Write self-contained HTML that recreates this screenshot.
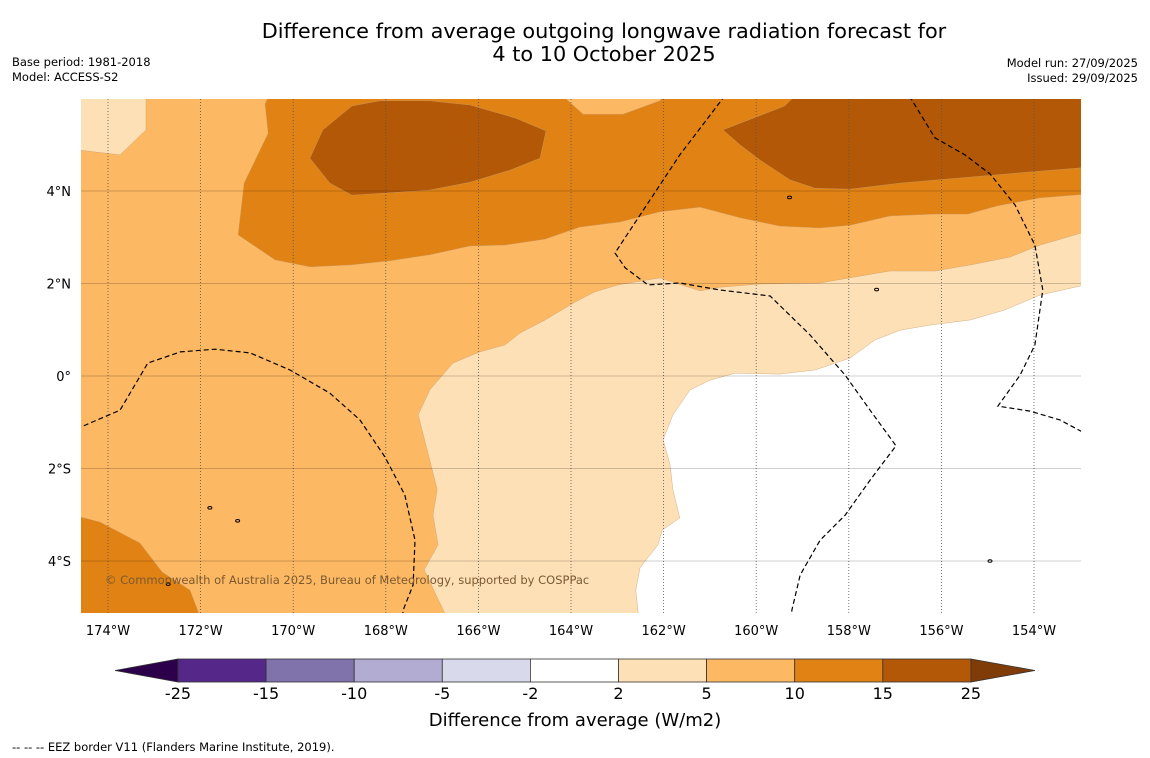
<!DOCTYPE html>
<html><head><meta charset="utf-8"><style>
html,body{margin:0;padding:0;background:#fff;}
svg{display:block;font-family:"DejaVu Sans","Liberation Sans",sans-serif;}
</style></head><body>
<svg id="chart" width="1150" height="758" viewBox="0 0 1150 758" xmlns="http://www.w3.org/2000/svg">
<text x="604" y="38" text-anchor="middle" font-size="20.8" fill="#000">Difference from average outgoing longwave radiation forecast for</text>
<text x="604" y="61" text-anchor="middle" font-size="20.8" fill="#000">4 to 10 October 2025</text>
<text x="12" y="66" font-size="11.5">Base period: 1981-2018</text>
<text x="12" y="81" font-size="11.5">Model: ACCESS-S2</text>
<text x="1138" y="67" font-size="11.5" text-anchor="end">Model run: 27/09/2025</text>
<text x="1138" y="82" font-size="11.5" text-anchor="end">Issued: 29/09/2025</text>
<defs><clipPath id="mapclip"><rect x="81" y="99" width="1000" height="514"/></clipPath></defs>
<g id="map" clip-path="url(#mapclip)"></g>
<g id="axes"></g>
<g id="cbar"></g>
<text x="575" y="726" text-anchor="middle" font-size="18">Difference from average (W/m2)</text>
<text x="12" y="751" font-size="11.5">--  --  -- EEZ border V11 (Flanders Marine Institute, 2019).</text>
</svg>
<script>
// axis extents
const lonTicks = [-174,-172,-170,-168,-166,-164,-162,-160,-158,-156,-154];
const latTicks = [4,2,0,-2,-4];
const lonLabels = ["174°W","172°W","170°W","168°W","166°W","164°W","162°W","160°W","158°W","156°W","154°W"];
const latLabels = ["4°N","2°N","0°","2°S","4°S"];
// contour bands (lon,lat)
const band2to5A = [[-175,6.5],[-173.14,6.5],[-173.18,5.98],[-173.18,5.32],[-173.74,4.78],[-175,4.93]];
const band2to5B = [[-166.55,-5.5],[-167.17,-4.19],[-166.87,-3.65],[-166.98,-3.01],[-166.89,-2.46],[-167.05,-1.82],[-167.30,-0.84],[-167.05,-0.30],[-166.55,0.28],[-165.97,0.52],[-165.43,0.67],[-165.10,0.93],[-164.56,1.21],[-163.91,1.60],[-163.48,1.82],[-162.98,1.97],[-162.08,2.12],[-161.21,1.84],[-160.78,1.92],[-159.92,1.99],[-158.62,2.01],[-157.76,2.16],[-157.11,2.27],[-156.14,2.27],[-155.38,2.40],[-154.52,2.57],[-153.87,2.83],[-152.98,3.09],[-152.5,3.2],[-152.5,-5.5]];
const bandNeutral = [[-162.51,-5.5],[-162.60,-4.63],[-162.51,-4.15],[-162.12,-3.65],[-162.03,-3.33],[-161.65,-3.07],[-161.80,-2.46],[-161.86,-1.92],[-162.01,-1.38],[-161.80,-0.84],[-161.43,-0.30],[-161.00,-0.09],[-160.46,0.06],[-159.49,0.04],[-158.73,0.13],[-157.97,0.39],[-157.43,0.78],[-156.89,0.99],[-156.25,1.10],[-155.38,1.21],[-154.63,1.43],[-153.87,1.75],[-152.98,1.95],[-152.5,1.97],[-152.5,-5.5]];
const band10to15A = [[-170.61,5.88],[-170.33,6.5],[-164.67,6.5],[-163.74,5.66],[-162.88,5.66],[-162.08,5.95],[-161.6,6.5],[-152.5,6.5],[-152.5,3.96],[-153.87,3.85],[-154.78,3.68],[-155.43,3.50],[-156.14,3.50],[-157.11,3.46],[-157.97,3.26],[-158.62,3.20],[-159.49,3.24],[-160.35,3.42],[-161.21,3.65],[-162.08,3.55],[-162.94,3.33],[-163.81,3.22],[-164.56,2.96],[-165.43,2.83],[-166.18,2.81],[-167.05,2.62],[-167.91,2.49],[-168.77,2.40],[-169.64,2.36],[-170.39,2.51],[-171.19,3.05],[-171.06,4.17],[-170.54,5.25]];
const band10to15B = [[-175,-2.94],[-174.17,-3.16],[-173.31,-3.61],[-172.83,-4.24],[-172.23,-4.63],[-171.90,-5.5],[-175,-5.5]];
const band15to25A = [[-168.73,5.84],[-168.13,5.95],[-167.05,5.95],[-166.18,5.86],[-165.21,5.58],[-164.54,5.30],[-164.67,4.71],[-165.32,4.45],[-166.18,4.19],[-167.05,4.02],[-167.91,3.96],[-168.73,3.91],[-169.21,4.17],[-169.64,4.71],[-169.36,5.32]];
const band15to25B = [[-160.72,5.32],[-159.38,5.84],[-158.73,6.5],[-152.5,6.5],[-152.5,4.54],[-154.09,4.41],[-155.60,4.28],[-156.89,4.17],[-157.97,4.04],[-158.73,4.06],[-159.27,4.24],[-159.92,4.67],[-160.35,5.0]];
// EEZ borders
const eezA = [[-175,-1.28],[-173.74,-0.74],[-173.14,0.28],[-172.44,0.52],[-171.69,0.58],[-170.93,0.50],[-170.07,0.13],[-169.21,-0.37],[-168.56,-0.95],[-168.02,-1.75],[-167.59,-2.57],[-167.37,-3.55],[-167.41,-4.52],[-167.61,-5.02],[-167.67,-5.3]];
const eezB = [[-160.57,6.2],[-161.65,4.78],[-162.51,3.48],[-163.05,2.66],[-162.83,2.34],[-162.34,1.97],[-161.65,2.01],[-160.78,1.86],[-159.70,1.73],[-158.84,0.89],[-158.08,0.02],[-157.54,-0.74],[-156.98,-1.51],[-157.54,-2.25],[-158.08,-3.01],[-158.62,-3.55],[-159.05,-4.30],[-159.23,-5.06],[-159.25,-5.3]];
const eezC = [[-156.78,6.2],[-156.14,5.15],[-155.49,4.78],[-154.95,4.37],[-154.41,3.70],[-153.98,2.83],[-153.81,1.86],[-153.98,0.67],[-154.30,0.02],[-154.78,-0.65],[-154.09,-0.76],[-153.44,-0.95],[-152.6,-1.4]];
const islands = [[-159.28,3.86],[-157.4,1.87],[-171.8,-2.85],[-171.2,-3.13],[-154.95,-4.0],[-172.7,-4.5]];
// colorbar
const cbLevels = ["-25","-15","-10","-5","-2","2","5","10","15","25"];
const cbColors = ["#542788","#8073ac","#b2abd2","#d8daeb","#ffffff","#fee0b6","#fdb863","#e08214","#b35806"];
const cbUnder = "#2d004b", cbOver = "#7f3b08";

const NS="http://www.w3.org/2000/svg";
const x = lon => 108 + (lon + 174) * 46.3;
const y = lat => 376 - lat * 46.25;
function mk(tag, attrs, parent){const e=document.createElementNS(NS,tag);for(const k in attrs)e.setAttribute(k,attrs[k]);parent.appendChild(e);return e;}
const map=document.getElementById('map'), axes=document.getElementById('axes'), cbar=document.getElementById('cbar');
const pts = arr => arr.map(p=>x(p[0]).toFixed(1)+','+y(p[1]).toFixed(1)).join(' ');

let bg = mk('rect',{x:81,y:99,width:1000,height:514,fill:'#fdb863'},map);


const bands=[[band2to5A,'#fee0b6','band-2-to-5-northwest'],[band2to5B,'#fee0b6','band-2-to-5-east'],[bandNeutral,'#ffffff','band-neutral'],[band10to15A,'#e08214','band-10-to-15-north'],[band10to15B,'#e08214','band-10-to-15-southwest'],[band15to25A,'#b35806','band-15-to-25-west'],[band15to25B,'#b35806','band-15-to-25-east']];
bands.forEach(b=>{
  const p=mk('polygon',{points:pts(b[0]),fill:b[1],stroke:'#c8a070','stroke-width':0.4},map);
  
  
});
lonTicks.forEach(l=>{
  const g=mk('line',{x1:x(l),x2:x(l),y1:99,y2:613,stroke:'#555','stroke-width':0.8,'stroke-dasharray':'1,2'},map);
  
  
});
latTicks.forEach(l=>{
  const g=mk('line',{x1:81,x2:1081,y1:y(l),y2:y(l),stroke:'#000','stroke-opacity':0.25,'stroke-width':0.8},map);
  
  
});
[eezA,eezB,eezC].forEach(e=>{
  const p=mk('polyline',{points:pts(e),fill:'none',stroke:'#000','stroke-width':1.2,'stroke-dasharray':'5,3'},map);
  
  
});
islands.forEach(i=>{
  const c=mk('ellipse',{cx:x(i[0]),cy:y(i[1]),rx:2,ry:1.3,fill:'none',stroke:'#000','stroke-width':1},map);
  
  
});
const cp=mk('text',{x:105,y:584,'font-size':11.5,fill:'#7a5a30'},map);
cp.textContent='© Commonwealth of Australia 2025, Bureau of Meteorology, supported by COSPPac';



lonTicks.forEach((l,i)=>{
  const t=mk('text',{x:x(l),y:635,'font-size':13,'text-anchor':'middle'},axes);
  t.textContent=lonLabels[i];
  
  
});
latTicks.forEach((l,i)=>{
  const t=mk('text',{x:71,y:y(l)+5,'font-size':13,'text-anchor':'end'},axes);
  t.textContent=latLabels[i];
  
  
});

// colorbar
const cbX0=178, cbW=88.1, cbY=659, cbH=23;
const under=mk('polygon',{points:`115,${cbY+cbH/2} ${cbX0},${cbY} ${cbX0},${cbY+cbH}`,fill:cbUnder,stroke:'#333','stroke-width':0.8},cbar);


cbColors.forEach((c,i)=>{
  const r=mk('rect',{x:cbX0+i*cbW,y:cbY,width:cbW,height:cbH,fill:c,stroke:'#333','stroke-width':0.8},cbar);
  
  
});
const xe=cbX0+cbColors.length*cbW;
const over=mk('polygon',{points:`${xe},${cbY} 1035,${cbY+cbH/2} ${xe},${cbY+cbH}`,fill:cbOver,stroke:'#333','stroke-width':0.8},cbar);


cbLevels.forEach((lv,i)=>{
  const t=mk('text',{x:cbX0+i*cbW,y:699,'font-size':16,'text-anchor':'middle'},cbar);
  t.textContent=lv;
  
  
});
</script>
</body></html>
